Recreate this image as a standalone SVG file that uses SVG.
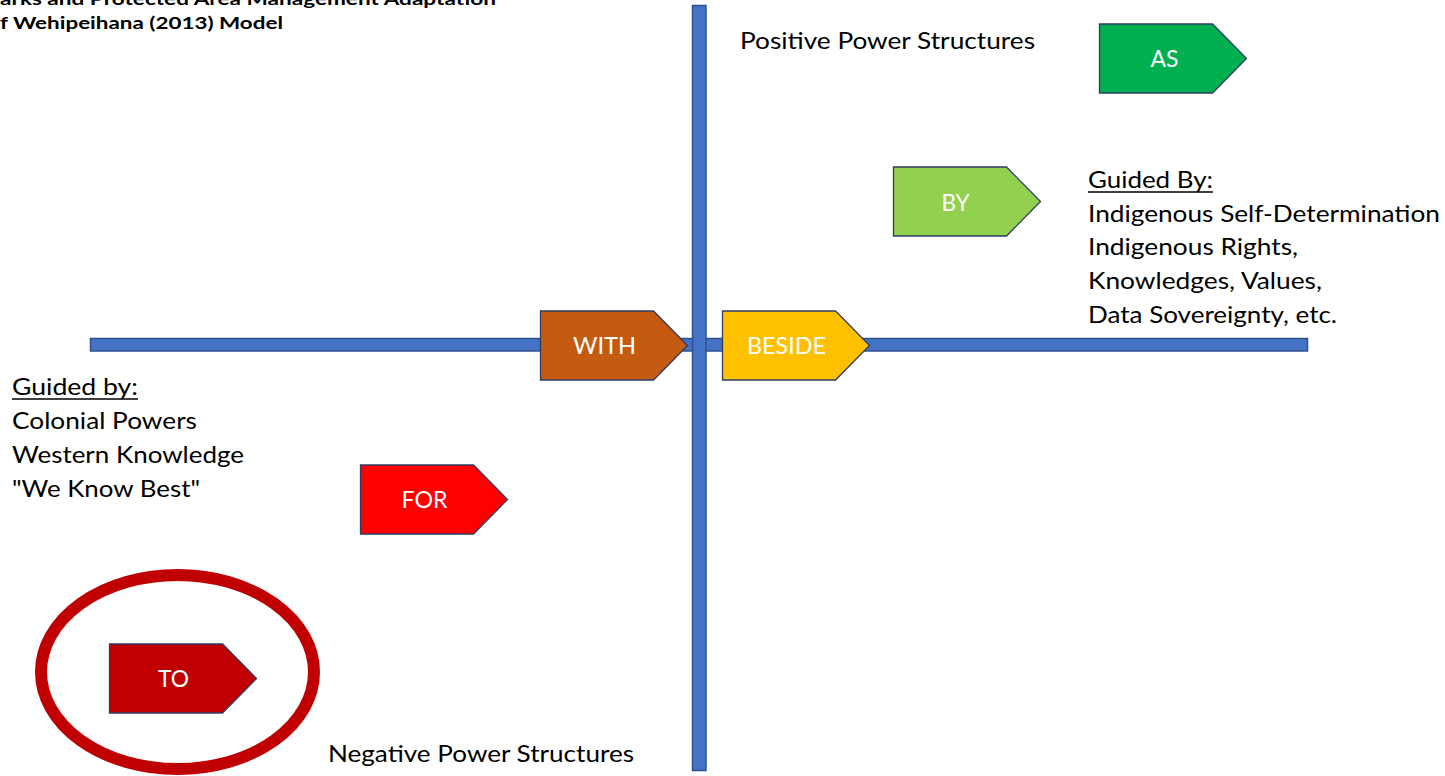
<svg xmlns="http://www.w3.org/2000/svg" width="1445" height="776" viewBox="0 0 1445 776">
  <style>
    .axis { fill: #4472C4; stroke: #2F528F; stroke-width: 1.5; }
    .tag { stroke: #2F3D63; stroke-width: 1.3; stroke-linejoin: miter; }
    .tag-label { font-family: Lato, "Liberation Sans", sans-serif; font-size: 24px; fill: #FFFFFF; text-anchor: middle; }
    .body { font-family: Lato, "Liberation Sans", sans-serif; font-size: 23px; fill: #000000; }
    .title { font-family: Lato, "Liberation Sans", sans-serif; font-size: 17px; font-weight: bold; fill: #000000; }
    .rule { stroke: #000000; stroke-width: 1.5; }
  </style>
  <defs>
    <!-- pentagon tag, 147 x 69, pointing right -->
    <path id="tag-shape" d="M0,0 H113 L147,34.5 L113,69 H0 Z"/>
  </defs>

  <rect width="1445" height="776" fill="#FFFFFF"/>

  <!-- heading, clipped at the top edge -->
  <g id="heading">
    <text class="title" x="0" y="5" textLength="496" lengthAdjust="spacingAndGlyphs">arks and Protected Area Management Adaptation</text>
    <text class="title" x="0" y="29" textLength="283" lengthAdjust="spacingAndGlyphs">f Wehipeihana (2013) Model</text>
  </g>

  <!-- the two axes -->
  <g id="connectors">
    <rect class="axis" x="90.5" y="338.5" width="1217" height="12.5"/>
    <rect class="axis" x="692.5" y="5.5" width="13.5" height="765"/>
  </g>

  <g id="node-as">
    <use href="#tag-shape" class="tag" fill="#00B050" transform="translate(1099.5,24)"/>
    <text class="tag-label" x="1164.5" y="67" textLength="28" lengthAdjust="spacingAndGlyphs">AS</text>
  </g>

  <g id="node-by">
    <use href="#tag-shape" class="tag" fill="#92D050" transform="translate(893.5,167)"/>
    <text class="tag-label" x="955.5" y="211" textLength="28" lengthAdjust="spacingAndGlyphs">BY</text>
  </g>

  <g id="node-with">
    <use href="#tag-shape" class="tag" fill="#C55A11" transform="translate(540.5,311)"/>
    <text class="tag-label" x="604.5" y="354" textLength="63" lengthAdjust="spacingAndGlyphs">WITH</text>
  </g>

  <g id="node-beside">
    <use href="#tag-shape" class="tag" fill="#FFC000" transform="translate(722.5,311)"/>
    <text class="tag-label" x="786.5" y="354" textLength="79" lengthAdjust="spacingAndGlyphs">BESIDE</text>
  </g>

  <g id="node-for">
    <use href="#tag-shape" class="tag" fill="#FF0000" transform="translate(360.5,465)"/>
    <text class="tag-label" x="424.5" y="508" textLength="46" lengthAdjust="spacingAndGlyphs">FOR</text>
  </g>

  <g id="node-to">
    <ellipse cx="177.5" cy="672" rx="136.5" ry="97" fill="none" stroke="#C00000" stroke-width="12"/>
    <use href="#tag-shape" class="tag" fill="#C00000" transform="translate(109.5,644)"/>
    <text class="tag-label" x="173.5" y="687" textLength="31" lengthAdjust="spacingAndGlyphs">TO</text>
  </g>

  <g id="label-positive">
    <text class="body" x="740" y="49" textLength="295" lengthAdjust="spacingAndGlyphs">Positive Power Structures</text>
  </g>

  <g id="label-negative">
    <text class="body" x="328" y="762" textLength="306" lengthAdjust="spacingAndGlyphs">Negative Power Structures</text>
  </g>

  <g id="notes-indigenous">
    <text class="body" x="1088" y="188" textLength="125" lengthAdjust="spacingAndGlyphs">Guided By:</text>
    <line class="rule" x1="1088" y1="192" x2="1213" y2="192"/>
    <text class="body" x="1088" y="222" textLength="352" lengthAdjust="spacingAndGlyphs">Indigenous Self-Determination</text>
    <text class="body" x="1088" y="255" textLength="210" lengthAdjust="spacingAndGlyphs">Indigenous Rights,</text>
    <text class="body" x="1088" y="289" textLength="234" lengthAdjust="spacingAndGlyphs">Knowledges, Values,</text>
    <text class="body" x="1088" y="323" textLength="249" lengthAdjust="spacingAndGlyphs">Data Sovereignty, etc.</text>
  </g>

  <g id="notes-colonial">
    <text class="body" x="12" y="395" textLength="126" lengthAdjust="spacingAndGlyphs">Guided by:</text>
    <line class="rule" x1="12" y1="399" x2="138" y2="399"/>
    <text class="body" x="12" y="429" textLength="185" lengthAdjust="spacingAndGlyphs">Colonial Powers</text>
    <text class="body" x="12" y="463" textLength="232" lengthAdjust="spacingAndGlyphs">Western Knowledge</text>
    <text class="body" x="12" y="497" textLength="188" lengthAdjust="spacingAndGlyphs">"We Know Best"</text>
  </g>
</svg>
